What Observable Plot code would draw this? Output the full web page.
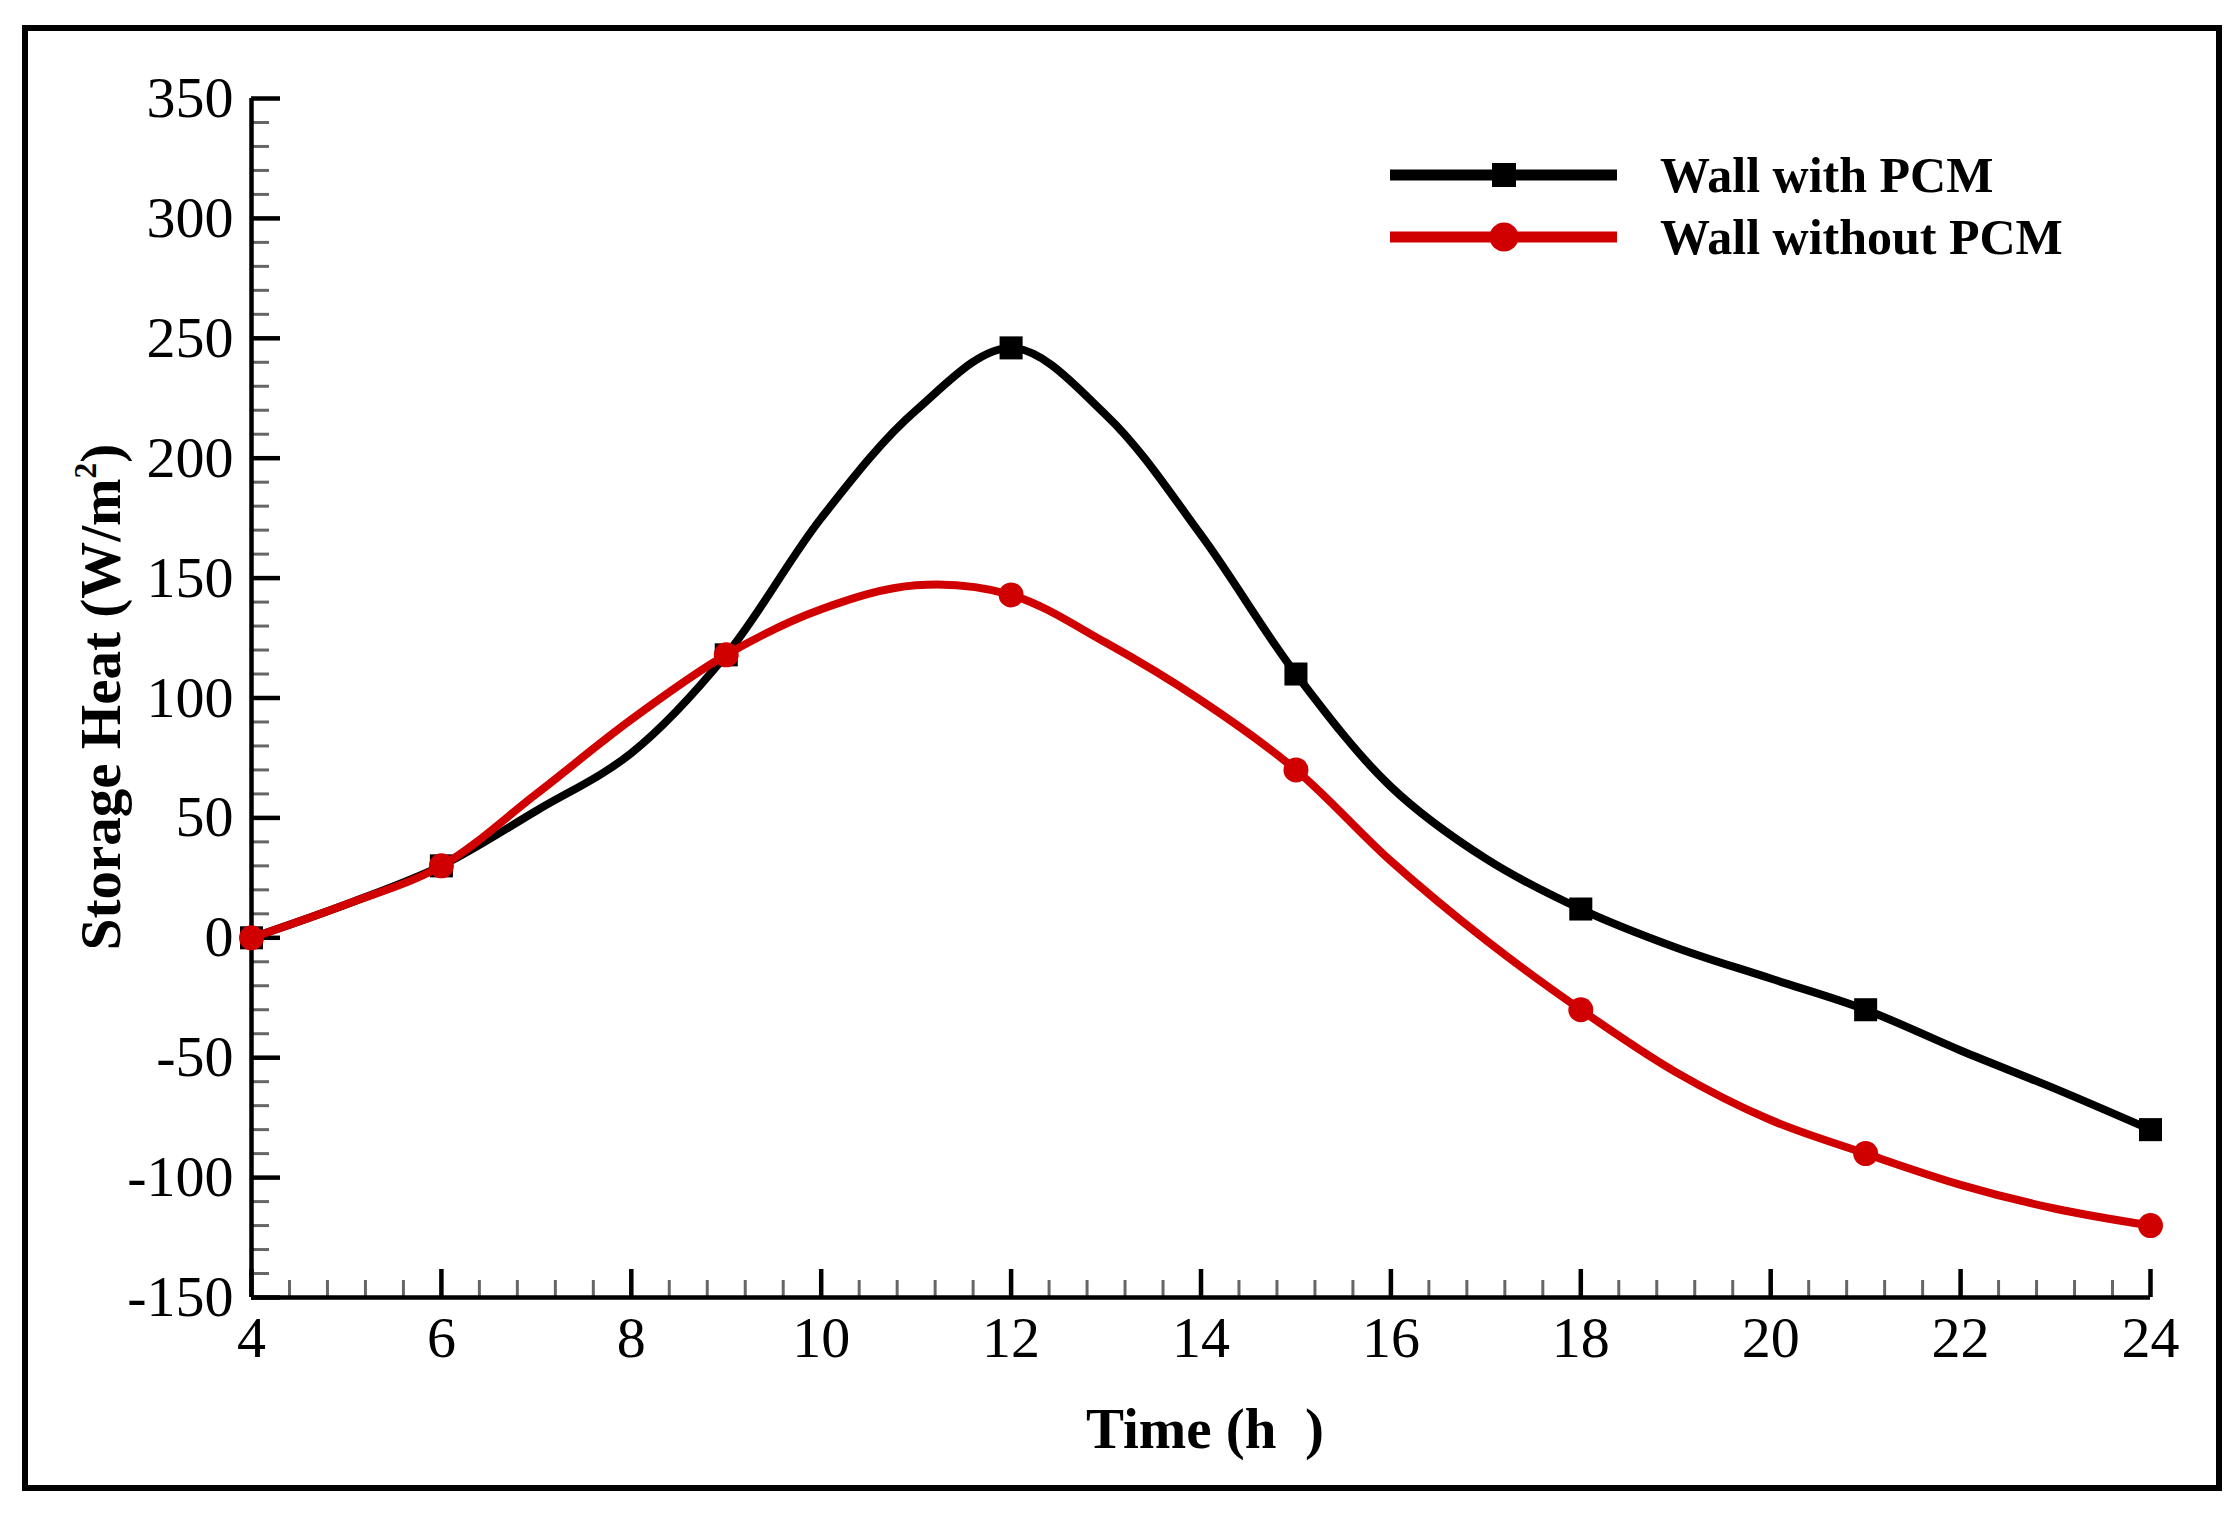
<!DOCTYPE html>
<html>
<head>
<meta charset="utf-8">
<script src="https://cdn.jsdelivr.net/npm/d3@7"></script>
<script src="https://cdn.jsdelivr.net/npm/@observablehq/plot@0.6"></script>
<style>
  body { margin: 0; background: #fff; }
  #wrap { position: relative; width: 2237px; height: 1517px; background: #fff; font-family: "Liberation Serif", "Times New Roman", serif; color: #000; }
  #frame { position: absolute; left: 22px; top: 25px; width: 2200px; height: 1466px; border: 6px solid #000; box-sizing: border-box; pointer-events: none; }
  #chart { position: absolute; left: 0; top: 0; }
  .title { position: absolute; font-weight: bold; white-space: pre; line-height: 1; }
  #ytitle { left: 100px; top: 697px; font-size: 57px; transform: translate(-50%, -50%) rotate(-90deg); }
  #ytitle sup { font-size: 0.55em; vertical-align: 0.75em; line-height: 0; }
  #xtitle { left: 1205px; top: 1428px; font-size: 57px; transform: translate(-50%, -50%); }
  .legline { position: absolute; left: 1390px; width: 227px; height: 11px; transform: translateY(-50%); }
  .legmark { position: absolute; transform: translate(-50%, -50%); }
  .legtext { position: absolute; left: 1660px; font-size: 50px; font-weight: bold; transform: translateY(-50%); white-space: pre; line-height: 1; }
</style>
</head>
<body>
<div id="wrap">
  <div id="chart"></div>
  <div id="frame"></div>
  <div id="ytitle" class="title">Storage Heat (W/m<sup>2</sup>)</div>
  <div id="xtitle" class="title">Time (h  )</div>
  <div id="legend"></div>
</div>
<script>
// ---- data ----
const hours      = [4, 5, 6, 7, 8, 9, 10, 11, 12, 13, 14, 15, 16, 17, 18, 19, 20, 21, 22, 23, 24];
const withPCM    = [0, 14, 30, 53, 77, 118, 175, 220, 246, 218, 168, 110, 63, 33, 12, -4, -17, -30, -47, -63, -80];
const withoutPCM = [0, 14, 30, 60, 91, 118, 137, 147, 143, 123, 99, 70, 32, -1, -30, -56, -76, -90, -103, -113, -120];
const markerHours = [4, 6, 9, 12, 15, 18, 21, 24];

const seriesNames = ["Wall with PCM", "Wall without PCM"];
const seriesColors = ["#000000", "#d00000"];

const xTickLabels = [4, 6, 8, 10, 12, 14, 16, 18, 20, 22, 24];
const yTickLabels = [-150, -100, -50, 0, 50, 100, 150, 200, 250, 300, 350];
const xMinorTicks = d3.range(4, 24.001, 0.4).map(v => +v.toFixed(1)).filter(v => !xTickLabels.includes(v));
const yMinorTicks = d3.range(-150, 350.001, 10).filter(v => !yTickLabels.includes(v));

// ---- table ----
const rows = hours.map((h, i) => ({h, withPCM: withPCM[i], withoutPCM: withoutPCM[i]}));
const markerRows = rows.filter(r => markerHours.includes(r.h));

const serif = "'Liberation Serif', 'Times New Roman', serif";

const chart = Plot.plot({
  width: 2237,
  height: 1517,
  marginLeft: 251,
  marginRight: 87,
  marginTop: 98,
  marginBottom: 220,
  style: {background: "transparent", fontFamily: serif, color: "#000", overflow: "visible"},
  x: {domain: [4, 24]},
  y: {domain: [-150, 350]},
  marks: [
    Plot.axisX(xMinorTicks, {anchor: "bottom", tickSize: -17, stroke: "#666", strokeWidth: 3, fill: "none", label: null}),
    Plot.axisX(xTickLabels, {anchor: "bottom", tickSize: -28, tickPadding: 46, strokeWidth: 4.5, fontSize: 58, fill: "#000", tickFormat: d => String(d), label: null}),
    Plot.axisY(yMinorTicks, {anchor: "left", tickSize: -18, stroke: "#666", strokeWidth: 3, fill: "none", label: null}),
    Plot.axisY(yTickLabels, {anchor: "left", tickSize: -29, tickPadding: 47, strokeWidth: 4.5, fontSize: 58, fill: "#000", tickFormat: d => String(d), label: null}),
    Plot.ruleY([-150], {stroke: "#000", strokeWidth: 4.5}),
    Plot.ruleX([4], {stroke: "#000", strokeWidth: 4.5}),
    Plot.line(rows, {x: "h", y: "withPCM", stroke: seriesColors[0], strokeWidth: 8, curve: "catmull-rom"}),
    Plot.dot(markerRows, {x: "h", y: "withPCM", symbol: "square", r: 13, fill: seriesColors[0], stroke: "none"}),
    Plot.line(rows, {x: "h", y: "withoutPCM", stroke: seriesColors[1], strokeWidth: 8, curve: "catmull-rom"}),
    Plot.dot(markerRows, {x: "h", y: "withoutPCM", symbol: "circle", r: 12.5, fill: seriesColors[1], stroke: "none"})
  ]
});
document.getElementById("chart").appendChild(chart);

// ---- legend (inside plot area, top right) ----
const legend = document.getElementById("legend");
const legendRowsY = [175, 237];
seriesNames.forEach((name, i) => {
  const y = legendRowsY[i];
  const line = document.createElement("div");
  line.className = "legline";
  line.style.top = y + "px";
  line.style.background = seriesColors[i];
  legend.appendChild(line);
  const m = document.createElement("div");
  m.className = "legmark";
  m.style.left = "1504px";
  m.style.top = y + "px";
  m.style.background = seriesColors[i];
  if (i === 0) { m.style.width = "24px"; m.style.height = "24px"; }
  else { m.style.width = "29px"; m.style.height = "29px"; m.style.borderRadius = "50%"; }
  legend.appendChild(m);
  const t = document.createElement("div");
  t.className = "legtext";
  t.style.top = y + "px";
  t.textContent = name;
  legend.appendChild(t);
});
</script>
</body>
</html>
